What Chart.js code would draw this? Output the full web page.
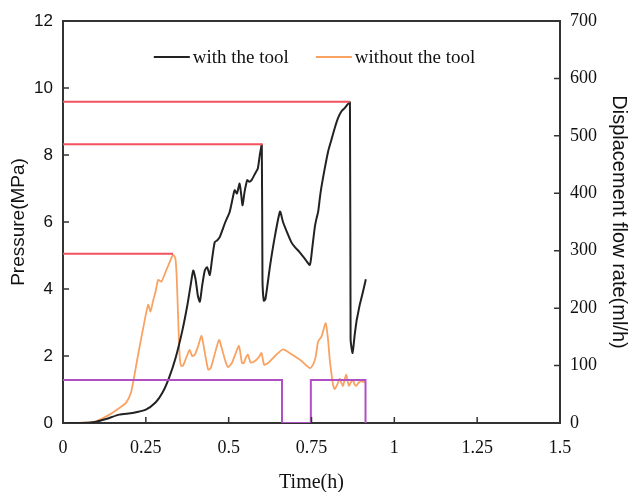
<!DOCTYPE html>
<html>
<head>
<meta charset="utf-8">
<script src="https://cdn.jsdelivr.net/npm/chart.js@4.4.1/dist/chart.umd.min.js"></script>
<style>
  html, body { margin: 0; padding: 0; background: #fff; }
  #wrap { width: 630px; height: 492px; }
</style>
</head>
<body>
<div id="wrap"><canvas id="chart" width="630" height="492"></canvas></div>
<script>
// Pressure with the tool (time in h, pressure in MPa)
const withTime = [0, 0.05, 0.09, 0.13, 0.17, 0.21, 0.25, 0.28, 0.30, 0.32, 0.34, 0.36, 0.375, 0.385, 0.393,
  0.400, 0.407, 0.413, 0.420, 0.428, 0.435, 0.443, 0.450, 0.458, 0.465, 0.473, 0.490, 0.503, 0.512, 0.518,
  0.525, 0.533, 0.538, 0.542, 0.548, 0.556, 0.562, 0.569, 0.580, 0.588, 0.594, 0.600, 0.602, 0.606, 0.611,
  0.625, 0.640, 0.655, 0.664, 0.676, 0.689, 0.700, 0.714, 0.730, 0.745, 0.752, 0.760, 0.765, 0.770, 0.775,
  0.780, 0.790, 0.800, 0.810, 0.820, 0.830, 0.840, 0.850, 0.858, 0.866, 0.868, 0.874, 0.880, 0.886, 0.889,
  0.895, 0.905, 0.914];
const withPressure = [0, 0, 0.02, 0.12, 0.25, 0.30, 0.40, 0.62, 0.90, 1.35, 1.95, 2.75, 3.5, 4.1, 4.55,
  4.3, 3.8, 3.62, 4.1, 4.55, 4.65, 4.42, 4.9, 5.4, 5.45, 5.55, 6.0, 6.3, 6.7, 6.95,
  6.85, 7.15, 6.8, 6.5, 6.9, 7.25, 7.2, 7.25, 7.45, 7.6, 8.0, 8.30, 4.3, 3.65, 3.7,
  4.7, 5.6, 6.31, 6.0, 5.7, 5.4, 5.25, 5.1, 4.9, 4.72, 5.2, 5.85, 6.1, 6.3, 6.7,
  7.05, 7.6, 8.1, 8.45, 8.8, 9.1, 9.3, 9.4, 9.5, 9.57, 2.5, 2.09, 2.6, 3.05, 3.2,
  3.5, 3.9, 4.29];

// Pressure without the tool
const withoutTime = [0, 0.05, 0.10, 0.14, 0.17, 0.19, 0.205, 0.215, 0.226, 0.241, 0.257, 0.264, 0.272, 0.280,
  0.287, 0.297, 0.312, 0.322, 0.332, 0.339, 0.343, 0.347, 0.352, 0.356, 0.362, 0.372, 0.382, 0.390, 0.398,
  0.408, 0.418, 0.428, 0.438, 0.445, 0.455, 0.471, 0.480, 0.490, 0.498, 0.510, 0.520, 0.531, 0.540, 0.545,
  0.552, 0.558, 0.566, 0.575, 0.590, 0.599, 0.607, 0.620, 0.640, 0.664, 0.690, 0.720, 0.745, 0.755, 0.762,
  0.770, 0.780, 0.793, 0.800, 0.805, 0.810, 0.815, 0.820, 0.828, 0.835, 0.840, 0.845, 0.850, 0.855, 0.860,
  0.863, 0.868, 0.875, 0.880, 0.885, 0.892, 0.900, 0.911];
const withoutPressure = [0, 0, 0.05, 0.25, 0.45, 0.6, 0.9, 1.4, 2.0, 2.78, 3.53, 3.33, 3.65, 3.95,
  4.27, 4.22, 4.57, 4.8, 5.02, 4.92, 4.4, 3.3, 2.0, 1.72, 1.71, 1.95, 2.18, 2.0, 2.04,
  2.3, 2.6, 2.1, 1.6, 1.62, 1.95, 2.48, 2.2, 1.85, 1.67, 1.8, 2.05, 2.30, 1.8, 1.78,
  1.95, 2.04, 1.81, 1.82, 1.95, 2.09, 1.74, 1.80, 2.0, 2.2, 2.05, 1.85, 1.64, 1.75, 1.95,
  2.43, 2.58, 2.98, 2.48, 1.9, 1.49, 1.15, 1.01, 1.15, 1.32, 1.2, 1.11, 1.3, 1.44, 1.2,
  1.11, 1.2, 1.29, 1.15, 1.11, 1.2, 1.24, 1.21];

// Peak pressure markers (red lines from t = 0 to the peak)
const peakPressure = [5.05, 8.32, 9.59];
const peakTime = [0.332, 0.603, 0.866];

// Displacement flow rate (ml/h)
const flowTime = [0, 0.661, 0.661, 0.748, 0.748, 0.913, 0.913];
const flowRate = [75, 75, 0, 0, 75, 75, 0];

// Tick labels
const xTickLabels = ['0', '0.25', '0.5', '0.75', '1', '1.25', '1.5'];
const pressureTicks = ['0', '2', '4', '6', '8', '10', '12'];
const flowTicks = ['0', '100', '200', '300', '400', '500', '600', '700'];

const legendNames = ['with the tool', 'without the tool'];

const toPoints = (xs, ys) => xs.map((x, i) => ({ x: x, y: ys[i] }));

const redSets = peakPressure.map((p, i) => ({
  label: 'peak ' + (i + 1),
  data: [{ x: 0, y: p }, { x: peakTime[i], y: p }],
  borderColor: '#f2525c',
  borderWidth: 2,
  pointRadius: 0,
  yAxisID: 'y'
}));

// frame on top and small inward tick marks
const frameTicks = {
  id: 'frameTicks',
  afterDraw(chart) {
    const ctx = chart.ctx;
    const a = chart.chartArea;
    const sx = chart.scales.x, sy = chart.scales.y, sy2 = chart.scales.y2;
    ctx.save();
    ctx.strokeStyle = '#333';
    ctx.lineWidth = 2;
    ctx.beginPath();
    ctx.moveTo(a.left - 1, a.top);
    ctx.lineTo(a.right + 1, a.top);
    ctx.stroke();
    ctx.lineWidth = 1.5;
    ctx.beginPath();
    sx.ticks.forEach(t => {
      const px = sx.getPixelForValue(t.value);
      ctx.moveTo(px, a.bottom);
      ctx.lineTo(px, a.bottom - 6);
    });
    sy.ticks.forEach(t => {
      const py = sy.getPixelForValue(t.value);
      ctx.moveTo(a.left, py);
      ctx.lineTo(a.left + 6, py);
    });
    sy2.ticks.forEach(t => {
      const py = sy2.getPixelForValue(t.value);
      ctx.moveTo(a.right, py);
      ctx.lineTo(a.right - 6, py);
    });
    ctx.stroke();
    ctx.restore();
  }
};

// legend inside the plot, one row: line sample then name
const innerLegend = {
  id: 'innerLegend',
  afterDraw(chart) {
    const ctx = chart.ctx;
    const a = chart.chartArea;
    const items = chart.data.datasets.filter(ds => legendNames.includes(ds.label));
    const lineW = 36, gap = 3, between = 27;
    ctx.save();
    ctx.font = '19px "Liberation Serif", "Times New Roman", serif';
    const widths = items.map(ds => ctx.measureText(ds.label).width);
    const total = widths.reduce((s, w) => s + lineW + gap + w, 0) + between * (items.length - 1);
    let x = (a.left + a.right) / 2 + 3 - total / 2;
    const y = a.top + 36;
    items.forEach((ds, i) => {
      ctx.strokeStyle = ds.borderColor;
      ctx.lineWidth = 2;
      ctx.beginPath();
      ctx.moveTo(x, y);
      ctx.lineTo(x + lineW, y);
      ctx.stroke();
      ctx.fillStyle = '#111';
      ctx.textBaseline = 'alphabetic';
      ctx.fillText(ds.label, x + lineW + gap, y + 6);
      x += lineW + gap + widths[i] + between;
    });
    ctx.restore();
  }
};

new Chart(document.getElementById('chart').getContext('2d'), {
  type: 'line',
  data: {
    datasets: [
      ...redSets,
      {
        label: 'flow rate',
        data: toPoints(flowTime, flowRate),
        borderColor: '#b150c4',
        borderWidth: 2,
        pointRadius: 0,
        yAxisID: 'y2'
      },
      {
        label: 'with the tool',
        data: toPoints(withTime, withPressure),
        borderColor: '#222222',
        backgroundColor: '#222222',
        borderWidth: 2,
        pointRadius: 0,
        tension: 0.2,
        yAxisID: 'y'
      },
      {
        label: 'without the tool',
        data: toPoints(withoutTime, withoutPressure),
        borderColor: '#f9a262',
        backgroundColor: '#f9a262',
        borderWidth: 1.8,
        pointRadius: 0,
        tension: 0.2,
        yAxisID: 'y'
      }
    ]
  },
  options: {
    responsive: false,
    animation: false,
    events: [],
    layout: { padding: { top: 21, left: 0, right: 0, bottom: 0 } },
    plugins: {
      tooltip: { enabled: false },
      legend: { display: false }
    },
    scales: {
      x: {
        type: 'linear',
        min: 0,
        max: 1.5,
        ticks: {
          stepSize: 0.25,
          padding: 14,
          color: '#111',
          font: { family: '"Liberation Serif", "Times New Roman", serif', size: 18 },
          callback: (v, i) => xTickLabels[i]
        },
        grid: { drawOnChartArea: false, drawTicks: false },
        border: { color: '#333', width: 2 },
        title: {
          display: true,
          text: 'Time(h)',
          color: '#111',
          padding: { top: 0, bottom: 0 },
          font: { family: '"Liberation Serif", "Times New Roman", serif', size: 20, lineHeight: 0.9 }
        },
        afterFit: s => { s.height = 69; }
      },
      y: {
        type: 'linear',
        position: 'left',
        min: 0,
        max: 12,
        ticks: {
          stepSize: 2,
          padding: 10,
          color: '#111',
          font: { family: '"Liberation Sans", Arial, sans-serif', size: 17 },
          callback: (v, i) => pressureTicks[i]
        },
        grid: { drawOnChartArea: false, drawTicks: false },
        border: { color: '#333', width: 2 },
        title: {
          display: true,
          text: 'Pressure(MPa)',
          color: '#111',
          padding: { top: 7, bottom: 0 },
          font: { family: '"Liberation Sans", Arial, sans-serif', size: 19 }
        },
        afterFit: s => { s.width = 63; }
      },
      y2: {
        type: 'linear',
        position: 'right',
        min: 0,
        max: 700,
        ticks: {
          stepSize: 100,
          padding: 10,
          color: '#111',
          font: { family: '"Liberation Serif", "Times New Roman", serif', size: 18 },
          callback: (v, i) => flowTicks[i]
        },
        grid: { drawOnChartArea: false, drawTicks: false },
        border: { color: '#333', width: 2 },
        title: {
          display: true,
          text: 'Displacement flow rate(ml/h)',
          color: '#111',
          padding: { top: 0, bottom: 0 },
          font: { family: '"Liberation Sans", Arial, sans-serif', size: 20, lineHeight: 1.1 }
        },
        afterFit: s => { s.width = 70; }
      }
    }
  },
  plugins: [frameTicks, innerLegend]
});
</script>
</body>
</html>
